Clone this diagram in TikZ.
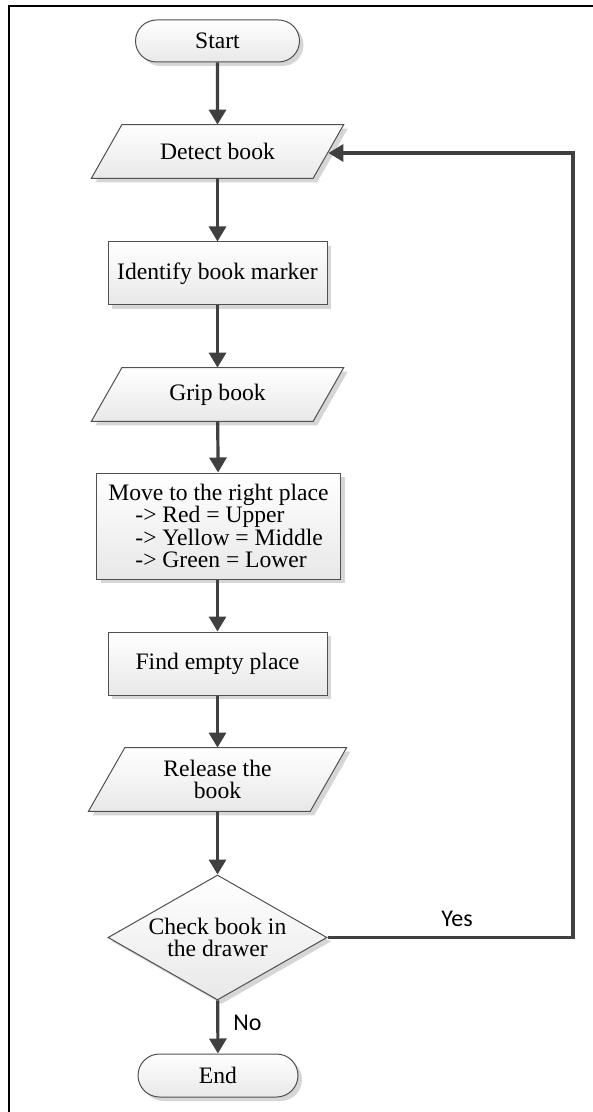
\documentclass[tikz,border=0pt]{standalone}
\usepackage{fontspec}
\setmainfont{Liberation Serif}
\newfontfamily\lblfont{Carlito}
\usetikzlibrary{shapes.geometric,shapes.misc,shadows,arrows.meta,backgrounds,calc}
\definecolor{edgec}{HTML}{505050}
\definecolor{arrc}{HTML}{404040}
\definecolor{shadc}{HTML}{D6D6D6}
\tikzset{
  boxfill/.style={draw=edgec, line width=0.5pt, top color=white, bottom color=black!9,
    drop shadow={shadow xshift=2pt, shadow yshift=-2pt, fill=shadc, opacity=1}},
  txt/.style={font=\fontsize{11.8pt}{11.2pt}\selectfont, align=center, inner sep=0pt},
  term/.style={boxfill, txt, rounded rectangle, minimum width=82pt, minimum height=21pt},
  proc/.style={boxfill, txt, rectangle, minimum width=109.5pt, minimum height=31.5pt},
  iotext/.style={txt, rectangle, minimum width=110.5pt},
  ioshape/.style={boxfill},
  dec/.style={boxfill, txt, diamond, aspect=1.75, minimum width=109.5pt, minimum height=62.5pt},
  flow/.style={draw=arrc, line width=1.6pt, -{Triangle[length=7.5pt,width=8.5pt]}},
  lbl/.style={font=\lblfont\fontsize{12pt}{14pt}\selectfont, inner sep=0pt},
  framel/.style={draw=black, line width=1.2pt}
}
\begin{document}
\begin{tikzpicture}[x=0.5pt,y=-0.5pt]
\useasboundingbox (0,0) rectangle (593,1112);
\draw[framel] (9,1112) -- (9,6) -- (593,6);

\node[term] (start) at (217.5,41) {Start};
\node[iotext, minimum height=26.5pt] (detect) at (217.5,151.5) {Detect book};
\node[proc] (identify) at (217.5,273.5) {Identify book marker};
\node[iotext, minimum height=26.5pt] (grip) at (217.5,394.5) {Grip book};
\node[proc, minimum width=122pt, minimum height=53pt, align=left] (move) at (218.5,526)
  {Move to the right place\\\hspace*{13.5pt}-> Red = Upper\\\hspace*{13.5pt}-> Yellow = Middle\\\hspace*{13.5pt}-> Green = Lower};
\node[proc] (find) at (217.5,663.5) {Find empty place};
\node[iotext, minimum height=31.5pt] (release) at (217.5,779.5) {Release the\\book};
\node[dec] (check) at (217.5,937.5) {Check book in\\the drawer};
\node[term, minimum width=80pt, minimum height=21.5pt] (end) at (218,1075.5) {End};

\begin{scope}[on background layer]
  \path[ioshape] ([xshift=-7.65pt]detect.south west) -- ([xshift=-7.65pt]detect.south east)
     -- ([xshift=7.65pt]detect.north east) -- ([xshift=7.65pt]detect.north west) -- cycle;
  \path[ioshape] ([xshift=-7.65pt]grip.south west) -- ([xshift=-7.65pt]grip.south east)
     -- ([xshift=7.65pt]grip.north east) -- ([xshift=7.65pt]grip.north west) -- cycle;
  \path[ioshape] ([xshift=-9.1pt]release.south west) -- ([xshift=-9.1pt]release.south east)
     -- ([xshift=9.1pt]release.north east) -- ([xshift=9.1pt]release.north west) -- cycle;
\end{scope}

\coordinate (rt) at (573,153);
\draw[flow] (start) -- (detect);
\draw[flow] (detect) -- (identify);
\draw[flow] (identify) -- (grip);
\draw[flow] (grip) -- (move);
\draw[flow] (move.south -| find.north) -- (find);
\draw[flow] (find) -- (release);
\draw[flow] (release) -- (check);
\draw[flow] (check) -- (end) node[lbl, pos=0.42, anchor=west, xshift=7pt] (no) {No};
\draw[flow] (check.east) -| (rt) -- (rt -| detect.east);
\node[lbl] (yes) at (457,919) {Yes};
\end{tikzpicture}
\end{document}
